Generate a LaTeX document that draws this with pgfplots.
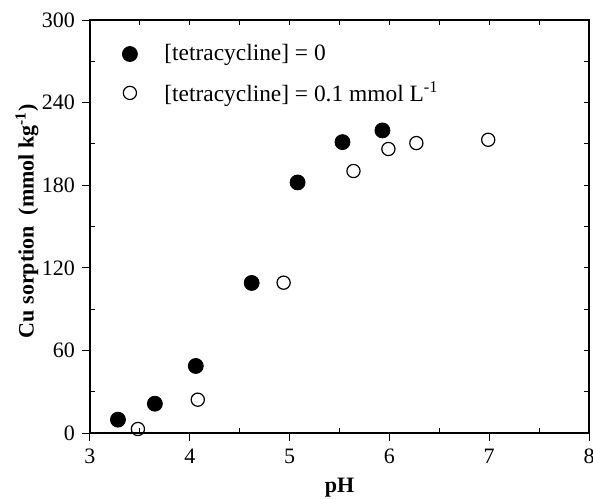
\documentclass[border=0pt]{standalone}
\usepackage{pgfplots}
\pgfplotsset{compat=1.18}
\usepackage{fontspec}
\setmainfont{Liberation Serif}
\begin{document}
\begin{tikzpicture}
\pgfplotsset{
  base/.style={
    scale only axis, width=249.5pt, height=206.5pt,
    xmin=3, xmax=8, ymin=0, ymax=300,
    axis line style={line width=0.6pt},
    tick style={line width=0.5pt, black},
    clip=false,
  }
}
% inward minor-type ticks on all sides
\begin{axis}[base,
  xtick={3.5,4.5,5.5,6.5,7.5}, ytick={30,90,150,210,270},
  tick align=inside, major tick length=2.5pt,
  xticklabels={}, yticklabels={}]
\end{axis}
% inward ticks at major positions on top/right
\begin{axis}[base,
  xtick={3,4,5,6,7,8}, ytick={0,60,120,180,240,300},
  xtick pos=right, ytick pos=right,
  tick align=inside, major tick length=2.5pt,
  xticklabels={}, yticklabels={}]
\end{axis}
% main axis
\begin{axis}[base,
  xtick={3,4,5,6,7,8}, ytick={0,60,120,180,240,300},
  xtick pos=left, ytick pos=left,
  tick align=outside, major tick length=4pt,
  /pgf/number format/assume math mode=true,
  tick label style={font=\fontsize{11}{13}\selectfont},
  xticklabel style={yshift=-0.5pt},
  xlabel={\textbf{pH}},
  ylabel={\textbf{Cu sorption\ \ (mmol kg\textsuperscript{-1})}},
  label style={font=\fontsize{11}{13}\selectfont},
  xlabel style={at={(axis description cs:0.5,-0.1332)}, anchor=center},
  ylabel style={at={(axis description cs:-0.1263,0.513)}, anchor=center},
  legend style={draw=none, fill=none, font=\fontsize{11.7}{13}\selectfont,
    at={(axis description cs:0,1)}, anchor=north west, xshift=13pt, yshift=-8pt,
    row sep=5pt, cells={anchor=west}},
]
\addplot[only marks, mark=*, mark size=3.75pt, draw=black, fill=black] coordinates {
(3.28,9.7) (3.65,21.3) (4.06,48.7) (4.62,109) (5.08,182) (5.53,211.3) (5.93,219.8)
};
\addlegendentry{\hspace{11.5pt}[tetracycline] = 0}
\addplot[only marks, mark=o, mark size=3.3pt, draw=black, fill=white, mark options={line width=0.6pt, fill=white}] coordinates {
(3.48,2.9) (4.08,24.2) (4.94,109.2) (5.64,190.3) (5.99,206.3) (6.27,210.6) (6.99,213)
};
\addlegendentry{\hspace{11.5pt}[tetracycline] = 0.1 mmol L\textsuperscript{-1}}
\end{axis}
\pgfresetboundingbox
\path[use as bounding box] ([xshift=-45pt,yshift=-32.5pt]current axis.south west) rectangle ([xshift=2pt,yshift=10pt]current axis.north east);
\end{tikzpicture}
\end{document}
